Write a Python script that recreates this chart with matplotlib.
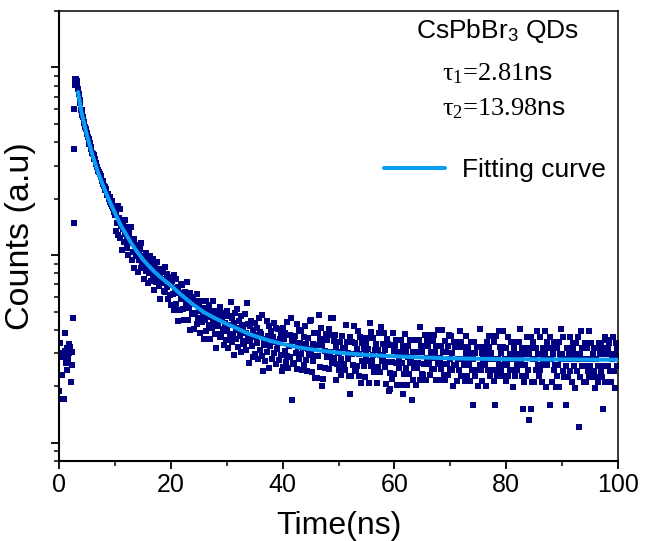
import numpy as np
import matplotlib
matplotlib.use('Agg')
import matplotlib.pyplot as plt
from matplotlib.ticker import MultipleLocator, LogLocator, NullFormatter

plt.rcParams['font.family'] = ['Liberation Sans', 'DejaVu Sans']
plt.rcParams['mathtext.fontset'] = 'custom'
plt.rcParams['mathtext.rm'] = 'Liberation Serif'
plt.rcParams['mathtext.sf'] = 'Liberation Sans'
plt.rcParams['mathtext.it'] = 'Liberation Serif:italic'

# ---------------- data ----------------
CHANNEL = 0.125  # ns per channel

# background before the excitation pulse, t = 0 ... 2.375 ns
bg_counts = [190, 340, 290, 172, 285, 230, 300, 172, 384, 310,
             265, 244, 320, 280, 300, 335, 324, 211, 259, 305]

# rising edge
rise_times = [2.45, 2.6, 2.65, 2.7]
rise_counts = [460, 1480, 3700, 6000]

# decay, block start times (ns) and counts per channel
block_starts = [2.8, 10, 20, 30, 40, 50, 60, 70, 80, 90]

counts_02 = [8050, 8700, 8650, 8450, 8150, 7700, 7250, 6750,
             6450, 5950, 5950, 5550, 5450, 5150, 5050, 4800,
             4700, 4400, 4450, 4250, 4150, 3900, 3950, 3700,
             3750, 3500, 3480, 3400, 3250, 3250, 3050, 3100,
             2950, 2830, 2800, 2760, 2720, 2600, 2640, 2470,
             2480, 2380, 2330, 2300, 2220, 2260, 2130, 2100,
             2120, 1990, 2040, 1930, 1880, 1940, 1820, 1780,
             1830, 1700]

counts_10 = [1633, 1350, 1696, 1492, 1821, 1287, 1570, 1758,
             1233, 1425, 1069, 1480, 1370, 1178, 1534, 1302,
             1415, 1098, 1269, 1000, 1318, 1220, 1159, 1415,
             942, 1183, 1040, 1226, 854, 1139, 986, 1095,
             1114, 816, 1035, 945, 1075, 856, 1154, 896,
             915, 988, 750, 952, 824, 1025, 869, 714,
             918, 808, 986, 731, 850, 884, 765, 952,
             652, 795, 859, 716, 922, 755, 827, 684,
             780, 585, 840, 713, 750, 810, 645, 870,
             639, 738, 675, 795, 582, 710, 767, 611]

counts_20 = [697, 543, 724, 623, 784, 509, 670, 750,
             548, 655, 447, 680, 630, 510, 706, 586,
             694, 516, 617, 451, 640, 593, 551, 723,
             454, 605, 521, 627, 398, 582, 487, 560,
             595, 404, 552, 494, 573, 430, 621, 462,
             506, 546, 385, 526, 440, 567, 471, 359,
             524, 451, 567, 393, 485, 504, 422, 543,
             356, 468, 505, 407, 571, 435, 487, 379,
             470, 321, 506, 420, 452, 488, 366, 529,
             380, 454, 406, 489, 332, 437, 472, 354]

counts_30 = [394, 505, 322, 424, 475, 369, 564, 343,
             460, 382, 436, 292, 489, 411, 358, 518,
             323, 399, 447, 371, 303, 475, 423, 347,
             409, 336, 486, 313, 386, 555, 359, 432,
             267, 421, 350, 447, 327, 399, 286, 376,
             437, 297, 367, 411, 341, 279, 462, 389,
             312, 381, 291, 477, 241, 334, 359, 273,
             352, 444, 306, 373, 250, 419, 327, 394,
             386, 279, 366, 300, 435, 345, 262, 411,
             315, 339, 403, 275, 359, 295, 380, 241]

counts_40 = [410, 253, 356, 310, 383, 270, 440, 290,
             249, 328, 377, 285, 462, 170, 351, 266,
             347, 262, 373, 301, 428, 246, 324, 399,
             278, 342, 298, 394, 243, 320, 368, 259,
             417, 275, 338, 240, 363, 316, 294, 446,
             313, 450, 238, 335, 272, 385, 291, 222,
             333, 221, 383, 289, 479, 358, 252, 411,
             201, 331, 219, 355, 309, 250, 380, 287,
             352, 285, 404, 248, 306, 463, 266, 376,
             463, 350, 283, 374, 216, 325, 264, 304]

counts_50 = [244, 301, 346, 280, 229, 370, 322, 262,
             261, 321, 243, 423, 345, 279, 300, 228,
             181, 367, 226, 298, 343, 259, 420, 241,
             342, 241, 318, 258, 392, 297, 226, 365,
             209, 339, 274, 363, 257, 316, 224, 295,
             338, 273, 315, 209, 362, 435, 256, 388,
             272, 293, 360, 237, 314, 255, 337, 208,
             312, 254, 385, 237, 292, 412, 272, 336,
             291, 384, 253, 311, 207, 358, 271, 335,
             190, 235, 193, 334, 270, 220, 383, 310]

counts_60 = [232, 329, 266, 352, 203, 306, 249, 286,
             306, 203, 352, 266, 181, 329, 232, 378,
             249, 306, 203, 329, 286, 232, 352, 266,
             286, 170, 217, 306, 249, 352, 266, 203,
             249, 306, 266, 352, 217, 413, 329, 232,
             304, 230, 327, 264, 375, 216, 284, 349,
             327, 264, 375, 230, 284, 304, 247, 349,
             375, 247, 304, 216, 327, 284, 264, 400,
             216, 284, 327, 247, 400, 264, 304, 230,
             349, 216, 304, 264, 327, 230, 375, 247]

counts_70 = [281, 371, 244, 301, 200, 346, 261, 323,
             261, 346, 214, 281, 323, 244, 396, 228,
             346, 228, 281, 323, 261, 214, 371, 301,
             228, 281, 323, 261, 214, 346, 301, 244,
             160, 281, 346, 228, 301, 244, 323, 200,
             200, 323, 261, 402, 244, 301, 214, 281,
             323, 261, 301, 200, 346, 281, 244, 371,
             323, 228, 301, 244, 371, 281, 214, 346,
             160, 244, 371, 228, 281, 396, 261, 323,
             244, 301, 228, 396, 323, 261, 281, 214]

counts_80 = [321, 259, 368, 226, 279, 299, 243, 343,
             243, 299, 198, 321, 279, 226, 343, 259,
             243, 299, 259, 343, 402, 279, 321, 226,
             151, 212, 299, 259, 321, 226, 368, 243,
             299, 132, 321, 151, 368, 212, 279, 343,
             212, 279, 321, 243, 393, 259, 299, 226,
             368, 243, 299, 212, 321, 279, 259, 393,
             299, 198, 343, 259, 279, 321, 160, 368,
             279, 321, 212, 299, 243, 343, 259, 198,
             226, 321, 259, 343, 198, 299, 402, 279]

counts_90 = [297, 242, 367, 225, 278, 160, 258, 320,
             320, 225, 297, 242, 367, 278, 211, 342,
             320, 258, 297, 197, 342, 278, 242, 367,
             121, 297, 225, 392, 320, 258, 278, 211,
             258, 342, 211, 278, 320, 242, 392, 225,
             258, 278, 342, 225, 297, 242, 320, 197,
             225, 278, 320, 258, 211, 342, 297, 242,
             342, 225, 151, 320, 258, 211, 367, 297,
             352, 320, 258, 342, 242, 297, 211, 278,
             278, 367, 242, 297, 197, 342, 258, 320,
             290]

decay_blocks = [counts_02, counts_10, counts_20, counts_30, counts_40,
                counts_50, counts_60, counts_70, counts_80, counts_90]

# bi-exponential fitting curve
fit_time = [3.4, 4, 5, 6, 7, 8, 9, 10, 11, 12, 13, 14, 15, 16, 17, 18,
            20, 22, 24, 26, 28, 30, 32, 34, 36, 38, 40, 43, 46, 50, 55,
            60, 65, 70, 80, 90, 100]
fit_counts = [7400, 5800, 4350, 3400, 2750, 2300, 1950, 1680, 1450, 1290,
              1150, 1040, 950, 880, 820, 770, 690, 610, 545, 495, 460, 430,
              405, 380, 363, 348, 336, 322, 312, 302, 294, 289, 285, 282,
              279, 278, 277]

x_ticks = [0, 20, 40, 60, 80, 100]

# ---------------- assemble ----------------
t_all = [CHANNEL * np.arange(len(bg_counts))]
c_all = [np.array(bg_counts, dtype=float)]
t_all.append(np.array(rise_times))
c_all.append(np.array(rise_counts, dtype=float))
for start, vals in zip(block_starts, decay_blocks):
    t_all.append(start + CHANNEL * np.arange(len(vals)))
    c_all.append(np.array(vals, dtype=float))
t_all = np.concatenate(t_all)
c_all = np.concatenate(c_all)

# ---------------- figure ----------------
W, H = 645, 541
fig = plt.figure(figsize=(W / 100, H / 100), dpi=100)
ax = fig.add_axes([59 / W, 80 / H, 559 / W, 450 / H])

ax.plot(t_all, c_all, linestyle='none', marker='s', markersize=4.8,
        markeredgewidth=0, color='#000080', zorder=2)
ax.plot(fit_time, fit_counts, color='#0c9cf2', linewidth=2.9,
        label='Fitting curve', zorder=3, solid_capstyle='round')

ax.set_yscale('log')
ax.set_xlim(0, 100)
ax.set_ylim(80, 20000)

ax.set_xticks(x_ticks)
ax.xaxis.set_minor_locator(MultipleLocator(10))
ax.yaxis.set_major_locator(LogLocator(base=10, numticks=10))
ax.yaxis.set_minor_locator(LogLocator(base=10, subs=np.arange(2, 10), numticks=20))
ax.yaxis.set_major_formatter(NullFormatter())
ax.yaxis.set_minor_formatter(NullFormatter())

ax.tick_params(axis='both', which='major', direction='out', length=6, width=1.3,
               labelsize=18, pad=3, top=False, right=False)
ax.tick_params(axis='both', which='minor', direction='out', length=3.5, width=1.1,
               top=False, right=False)

for side in ['left', 'bottom']:
    ax.spines[side].set_linewidth(1.5)
for side in ['top', 'right']:
    ax.spines[side].set_linewidth(1.1)

ax.set_xlabel('Time(ns)', fontsize=23)
ax.set_ylabel('Counts (a.u)', fontsize=24.5)
ax.xaxis.set_label_coords(0.5, -0.112)
ax.yaxis.set_label_coords(-0.042, 0.5)

fig.text(416 / W, 1 - 38 / H, r'CsPbBr$_\mathsf{3}$ QDs', fontsize=19,
         ha='left', va='baseline')
fig.text(442 / W, 1 - 80 / H, r'τ$_\mathrm{1}$=2.81$\mathsf{ns}$', fontsize=19,
         ha='left', va='baseline', family=['Liberation Serif', 'DejaVu Serif'])
fig.text(442 / W, 1 - 115 / H, r'τ$_\mathrm{2}$=13.98$\mathsf{ns}$', fontsize=19,
         ha='left', va='baseline', family=['Liberation Serif', 'DejaVu Serif'])

ax.legend(loc='center left', bbox_to_anchor=(384 / W, 1 - 170 / H),
          bbox_transform=fig.transFigure, frameon=False, fontsize=19,
          borderpad=0, borderaxespad=0, handlelength=2.3, handletextpad=0.65)

fig.savefig('out.png', dpi=100)
